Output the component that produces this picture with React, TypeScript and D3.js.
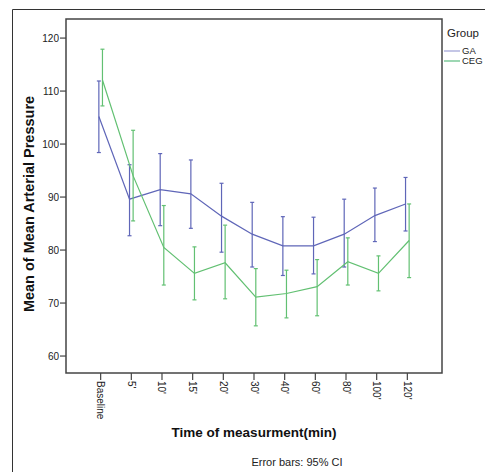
import * as d3 from "d3";

// time points on the x axis
const times = ["Baseline", "5'", "10'", "15'", "20'", "30'", "40'", "60'", "80'", "100'", "120'"];
const yTicks = [60, 70, 80, 90, 100, 110, 120];

// GA group: mean and 95% CI
const gaMean = [105.2, 89.6, 91.4, 90.6, 86.4, 83.0, 80.8, 80.8, 83.0, 86.5, 88.7];
const gaLower = [98.4, 82.7, 84.6, 84.1, 79.6, 76.8, 75.2, 75.5, 76.8, 81.6, 83.6];
const gaUpper = [111.9, 96.1, 98.2, 97.0, 92.6, 89.0, 86.3, 86.2, 89.6, 91.7, 93.7];

// CEG group: mean and 95% CI
const cegMean = [112.1, 94.0, 80.5, 75.6, 77.6, 71.1, 71.8, 73.1, 77.8, 75.6, 81.8];
const cegLower = [107.2, 85.5, 73.4, 70.6, 70.8, 65.7, 67.2, 67.6, 73.4, 72.3, 74.8];
const cegUpper = [117.9, 102.6, 88.4, 80.6, 84.7, 76.5, 76.2, 78.2, 82.3, 78.9, 88.7];

const groups = [
  { name: "GA", mean: gaMean, lower: gaLower, upper: gaUpper, color: "#5f66b8", legend: "#9c9fd6", dx: -1.8 },
  { name: "CEG", mean: cegMean, lower: cegLower, upper: cegUpper, color: "#62c072", legend: "#5cbd80", dx: 1.8 },
];

export default function App() {
  const width = 485;
  const height = 472;
  const margin = { top: 19, right: 43, bottom: 99, left: 66 };
  const font = "'Liberation Sans', Arial, sans-serif";

  const x = d3.scalePoint<string>()
    .domain(times)
    .range([margin.left, width - margin.right])
    .padding(1.13);

  const y = d3.scaleLinear()
    .domain([56.8, 123.6])
    .range([height - margin.bottom, margin.top]);

  const plotBottom = height - margin.bottom;
  const cap = 2;

  return (
    <svg width={width} height={height} style={{ position: "absolute", left: 0, top: 0, background: "#fff" }} fontFamily={font}>
      {/* outer frame */}
      <path d={`M12.5,${height} V9.5 H${width}`} fill="none" stroke="#333" strokeWidth={1} />

      {/* plot frame */}
      <rect x={margin.left} y={margin.top} width={width - margin.left - margin.right} height={plotBottom - margin.top}
        fill="none" stroke="#444" strokeWidth={1.5} />

      {/* y axis ticks */}
      {yTicks.map(t => (
        <g key={t} transform={`translate(${margin.left},${y(t)})`}>
          <line x1={-6} x2={0} stroke="#444" strokeWidth={1.2} />
          <text x={-7} dy="0.35em" textAnchor="end" fontSize={10} fill="#222">{t}</text>
        </g>
      ))}

      {/* x axis ticks */}
      {times.map(t => (
        <g key={t} transform={`translate(${x(t)},${plotBottom})`}>
          <line y1={0} y2={7} stroke="#444" strokeWidth={1.2} />
          <text transform="translate(0,8) rotate(90)" dy="0.35em" textAnchor="start" fontSize={10} fill="#222">{t}</text>
        </g>
      ))}

      {/* series */}
      {groups.map(g => {
        const line = d3.line<number>()
          .x((_, i) => (x(times[i]) as number) + g.dx)
          .y(d => y(d));
        return (
          <g key={g.name}>
            <path d={line(g.mean) as string} fill="none" stroke={g.color} strokeWidth={1.2} />
            {g.mean.map((_, i) => {
              const cx = (x(times[i]) as number) + g.dx;
              return (
                <g key={i} stroke={g.color} strokeWidth={1.2}>
                  <line x1={cx} x2={cx} y1={y(g.lower[i])} y2={y(g.upper[i])} />
                  <line x1={cx - cap} x2={cx + cap} y1={y(g.lower[i])} y2={y(g.lower[i])} />
                  <line x1={cx - cap} x2={cx + cap} y1={y(g.upper[i])} y2={y(g.upper[i])} />
                </g>
              );
            })}
          </g>
        );
      })}

      {/* axis titles */}
      <text x={29} y={204} transform="rotate(-90,29,204)" dy="0.35em" textAnchor="middle" fontSize={14.5} fontWeight="bold" fill="#111">
        Mean of Mean Arterial Pressure
      </text>
      <text x={254} y={437} textAnchor="middle" fontSize={13.5} fontWeight="bold" fill="#111">
        Time of measurment(min)
      </text>
      <text x={297} y={466} textAnchor="middle" fontSize={11} fill="#222">
        Error bars: 95% CI
      </text>

      {/* legend */}
      <text x={447} y={37} fontSize={11.5} fill="#222">Group</text>
      {groups.map((g, i) => (
        <g key={g.name} transform={`translate(444,${51 + i * 10})`}>
          <line x1={0} x2={16} stroke={g.legend} strokeWidth={1.2} />
          <text x={18} dy="0.35em" fontSize={9.5} fill="#222">{g.name}</text>
        </g>
      ))}
    </svg>
  );
}
